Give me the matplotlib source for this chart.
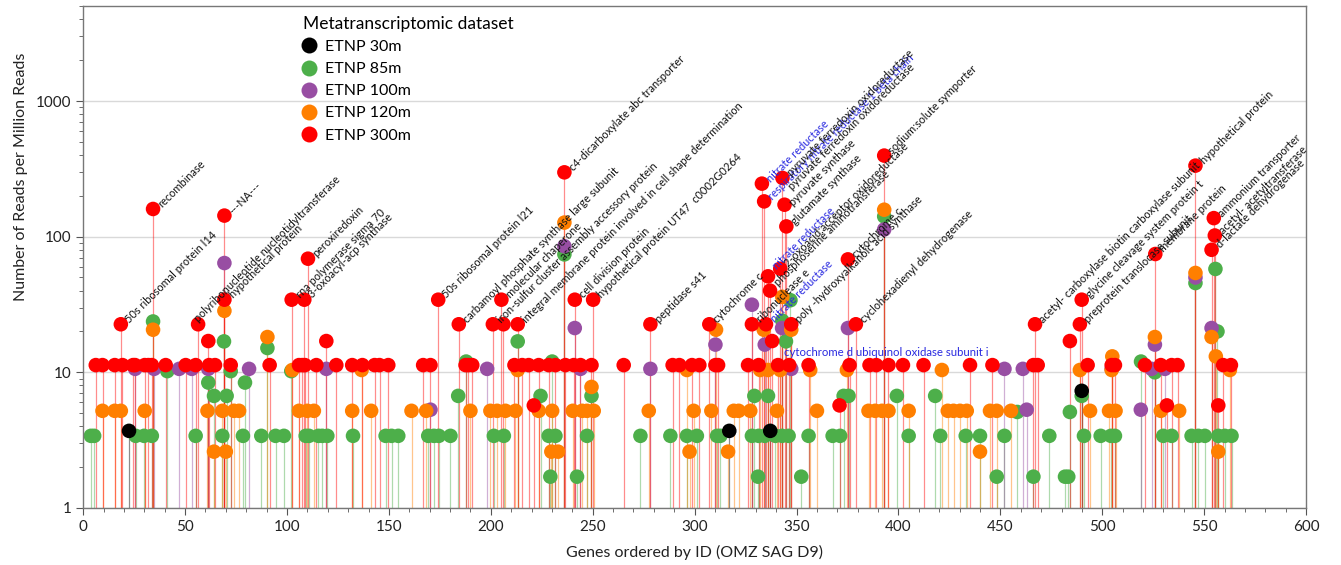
import matplotlib
matplotlib.use("Agg")
import matplotlib.pyplot as plt
import matplotlib.ticker as mticker
from matplotlib.lines import Line2D
import numpy as np

plt.rcParams['font.family'] = ['Lato', 'DejaVu Sans']

# ---- data: gene IDs and reads per million for each dataset ----
red_x = [6.2, 9.5, 15.5, 19.3, 24.5, 25.5, 30.2, 32, 33.7, 40.5, 50.3, 55.2, 61.8, 64.7, 72.4,
         91.5, 105.9, 107.5, 108.8, 114.4, 124.2, 132, 137, 143, 145.4, 149.7, 166.8, 170.4,
         187.6, 189, 190.9, 211.6, 215.4, 218.6, 223.5, 228.4, 231.7, 236.6, 240.7, 244, 249.4,
         265.2, 289.2, 292.5, 298.7, 302.3, 310.2, 311.5, 326.2, 331.4, 340.9, 346.4, 355.9, 376,
         385.8, 389.1, 395.1, 402.2, 412.3, 435.1, 446.1, 466.2, 468.3, 492.8, 504.6, 506.2,
         520.9, 528.7, 534, 536.9, 559.3, 563.1,
         18.5, 56.4, 184.3, 201, 206.2, 213.2, 278.3, 307.2, 328.1, 335, 347.4, 379.1, 467, 489,
         69.3, 102.3, 108.5, 174.2, 205.2, 241.2, 250.2, 489.9,
         61.4, 119.3, 338, 484.1,
         221.1, 371.1, 531.7, 556.9,
         34.3, 69.3, 110.3, 236.1, 333, 334.1, 343.1, 344.1, 345, 336, 342, 337, 375.2, 393,
         526, 545.7, 554.7, 555.2, 553.6]
red_y = [11.3] * 72 + [22.6] * 14 + [34.3] * 8 + [17] * 4 + [5.7] * 4 + \
        [160, 143, 68.8, 298, 246, 182, 271, 172, 119, 51, 58, 40, 68, 396,
         74.5, 334, 137, 102, 80]

green_x = [3.8, 5.4, 25.8, 29.9, 33.7, 55.2, 68.3, 78.4, 87.4, 94.4, 98.5, 109.2, 110.8, 115.4,
           117.3, 119.8, 132.4, 148.4, 151.3, 154.6, 169.3, 172.1, 174.5, 180.2, 201.5, 206.4,
           228.4, 231.7, 247.2, 273.4, 288.1, 296.2, 301.1, 311, 312.6, 328.1, 331.4, 334.4,
           339.6, 342.9, 346.1, 355.9, 367.7, 371.4, 405, 420.5, 433, 440, 452, 474, 491, 499.2,
           504.2, 506.2, 529.9, 534, 543.8, 547.1, 550.3, 556.9, 560.1, 563.4,
           229.2, 242.3, 331.1, 352.3, 448.2, 466.2, 481.7, 483.3,
           64.2, 70.4, 184, 224.4, 249.4, 329.3, 336, 373.1, 375.5, 399.2, 418, 489.9,
           61.4, 79.4, 458.3, 484.1,
           41.3, 72.4, 102.1, 525.8, 187.9, 230.1, 519,
           90.4, 69.1, 213.2, 344.8, 34.3, 343, 347, 236.1, 393, 556.5, 545.7, 555.5]
green_y = [3.4] * 62 + [1.7] * 8 + [6.7] * 12 + [8.4, 8.4, 5.1, 5.1] + \
          [10.2, 10.2, 10.2, 10, 12, 12, 12] + \
          [15.1, 16.9, 16.9, 16.9, 23.7, 24, 34, 74, 141, 20, 45.5, 57.8]

purple_x = [25.5, 34.8, 47.1, 53.3, 61.4, 81.4, 119.3, 198.2, 244, 278.3, 347.4, 452, 461,
            504.6, 524.2, 530.7,
            170.4, 462.9, 518.9,
            241.2, 342.9, 375.2, 553.6,
            310.2, 334.4, 525.8,
            328.1, 69.3, 236.1, 393, 545.7]
purple_y = [10.6] * 16 + [5.3] * 3 + [21.2] * 4 + [16] * 3 + [31.5, 63.9, 85, 113, 50]

orange_x = [9.5, 15.5, 18.5, 30.2, 61, 68.3, 74, 76.5, 105.9, 110, 113.2, 132, 141.3, 161.1,
            168.3, 190, 199.8, 203.1, 207.2, 212.1, 223.5, 230.1, 240.2, 244.8, 247.2, 250.5,
            277.5, 299.5, 308.2, 319.2, 321.6, 327.3, 340.4, 360, 385.3, 388.6, 391.9, 395.1,
            405, 424.2, 427, 430.2, 433.5, 444.9, 448.2, 455.2, 494, 503.3, 506.5, 528.7, 537.7,
            64.2, 70, 229.7, 233, 297.5, 316.4, 440, 556.9,
            102.6, 136.6, 213.2, 296.2, 332.2, 336, 342, 356.7, 374.7, 421.3, 489, 504.6, 562.6,
            249.4, 504.9, 555.7, 90.4, 525.8, 553.6,
            34.3, 310.5, 333.9, 347.4, 69.3, 343, 236.1, 393, 545.7]
orange_y = [5.2] * 51 + [2.6] * 8 + [10.4] * 13 + [7.8, 13.1, 13.1, 18.2, 18.2, 18.2] + \
           [20.6, 20.6, 20.6, 20.6, 28.4, 36, 127, 158, 54]

black_x = [22.5, 317, 337.1, 489.9]
black_y = [3.7, 3.7, 3.7, 7.3]

series = [
    ("ETNP 30m", black_x, black_y, "#000000", 6),
    ("ETNP 85m", green_x, green_y, "#4daf4a", 2),
    ("ETNP 100m", purple_x, purple_y, "#984ea3", 3),
    ("ETNP 120m", orange_x, orange_y, "#ff7f00", 4),
    ("ETNP 300m", red_x, red_y, "#ff0000", 5),
]

# gene annotations: text, gene, value, colour
labels = [
    ("50s ribosomal protein l14", 18.5, 22.6, "k"),
    ("recombinase", 34.3, 160, "k"),
    ("polyribonucleotide nucleotidyltransferase", 52.3, 23, "k"),
    ("---NA---", 69.3, 143, "k"),
    ("hypothetical protein", 69.3, 34.3, "k"),
    ("peroxiredoxin", 110.3, 68.8, "k"),
    ("rna polymerase sigma 70", 102.3, 34.3, "k"),
    ("3-oxoacyl-acp synthase", 108.5, 34.3, "k"),
    ("50s ribosomal protein l21", 174.2, 34.3, "k"),
    ("carbamoyl phosphate synthase large subunit", 184.3, 22.6, "k"),
    ("molecular chaperone", 205.2, 34.3, "k"),
    ("iron-sulfur cluster assembly accessory protein", 201, 22.6, "k"),
    ("integral membrane protein involved in cell shape determination", 213.2, 22.6, "k"),
    ("c4-dicarboxylate abc transporter", 236.1, 298, "k"),
    ("cell division protein", 241.2, 34.3, "k"),
    ("hypothetical protein UT47  c0002G0264", 250.2, 34.3, "k"),
    ("peptidase s41", 278.3, 22.6, "k"),
    ("cytochrome c", 307.2, 22.6, "k"),
    ("nitrate reductase", 333, 246, "b"),
    ("respiratory nitrate reductase 1 beta chain", 334.1, 182, "b"),
    ("pyruvate ferredoxin oxidoreductase", 343.1, 271, "k"),
    ("pyruvate ferredoxin oxidoreductase", 344.0, 215, "k"),
    ("pyruvate synthase", 344.1, 165, "k"),
    ("glutamate synthase", 345, 119, "k"),
    ("nitrate reductase", 336, 56, "b"),
    ("2-oxoacid:acceptor oxidoreductase", 342, 58, "k"),
    ("phosphoserine aminotransferase", 337, 42, "k"),
    ("ribonuclease e", 328.1, 22.6, "k"),
    ("nitrate reductase", 335, 22.6, "b"),
    ("poly -hydroxyalkanoic acid synthase", 347.4, 22.6, "k"),
    ("cytochrome c", 375.2, 68, "k"),
    ("sodium:solute symporter", 393, 396, "k"),
    ("cyclohexadienyl dehydrogenase", 379.1, 22.6, "k"),
    ("acetyl- carboxylase biotin carboxylase subunit", 467, 22.6, "k"),
    ("glycine cleavage system protein t", 489.9, 34.3, "k"),
    ("preprotein translocase subunit", 489, 22.6, "k"),
    ("membrane protein", 526, 74.5, "k"),
    ("hypothetical protein", 545.7, 334, "k"),
    ("ammonium transporter", 554.7, 137, "k"),
    ("acetyl- acetyltransferase", 555.2, 102, "k"),
    ("d-lactate dehydrogenase", 553.6, 80, "k"),
]
flat_label = ("cytochrome d ubiquinol oxidase subunit i", 343.6, 13.9)

label_colors = {"k": "#111111", "b": "#2a2ae0"}

fig = plt.figure(figsize=(13.41, 5.65), dpi=100)
ax = fig.add_axes([0.062, 0.101, 0.912, 0.888])

for name, xs, ys, col, z in series:
    ax.vlines(xs, 1, ys, colors=col, alpha=0.45, lw=0.9, zorder=1)
for name, xs, ys, col, z in series:
    ax.scatter(xs, ys, s=110, c=col, edgecolors='none', zorder=z)

for txt, gx, gy, c in labels:
    ax.annotate(txt, (gx, gy), xytext=(4.5, 2.5), textcoords='offset points',
                rotation=45, rotation_mode='anchor', ha='left', va='center',
                fontsize=7.9, color=label_colors[c], zorder=7)
ax.text(flat_label[1], flat_label[2], flat_label[0], ha='left', va='center',
        fontsize=8.2, color=label_colors["b"], zorder=7)

ax.set_yscale('log')
ax.set_ylim(1, 5000)
ax.set_xlim(0, 600)
ax.set_yticks([1, 10, 100, 1000])
ax.yaxis.set_major_formatter(mticker.FuncFormatter(lambda v, p: f"{int(v)}"))
ax.yaxis.set_minor_locator(mticker.LogLocator(base=10, subs=np.arange(2, 10)))
ax.yaxis.set_minor_formatter(mticker.NullFormatter())
ax.xaxis.set_major_locator(mticker.MultipleLocator(50))
ax.xaxis.set_minor_locator(mticker.MultipleLocator(10))
ax.grid(axis='y', which='major', color='#d9d9d9', lw=1, zorder=0)
ax.set_axisbelow(True)

for sp in ax.spines.values():
    sp.set_color('#777777')
    sp.set_linewidth(1)
ax.tick_params(which='both', direction='out', colors='#555555', labelcolor='#222222',
               labelsize=11)
ax.tick_params(which='major', length=5)
ax.tick_params(which='minor', length=3)

ax.set_xlabel("Genes ordered by ID (OMZ SAG D9)", fontsize=11.5, color='#222222',
              labelpad=8)
ax.set_ylabel("Number of Reads per Million Reads", fontsize=11.5, color='#222222')
ax.yaxis.set_label_coords(-0.045, 0.66)

handles = [Line2D([], [], ls='none', marker='o', markersize=11.5, color=col,
                  markeredgewidth=0, label=name) for name, _, _, col, _ in series]
leg = ax.legend(handles=handles, title="Metatranscriptomic dataset", loc='upper left',
                bbox_to_anchor=(0.172, 1.0), frameon=False, fontsize=11.5,
                title_fontsize=12.5, labelspacing=0.5, handlelength=0.8,
                handletextpad=0.6, alignment='left', borderaxespad=0.2)

fig.savefig("out.png", dpi=100)
